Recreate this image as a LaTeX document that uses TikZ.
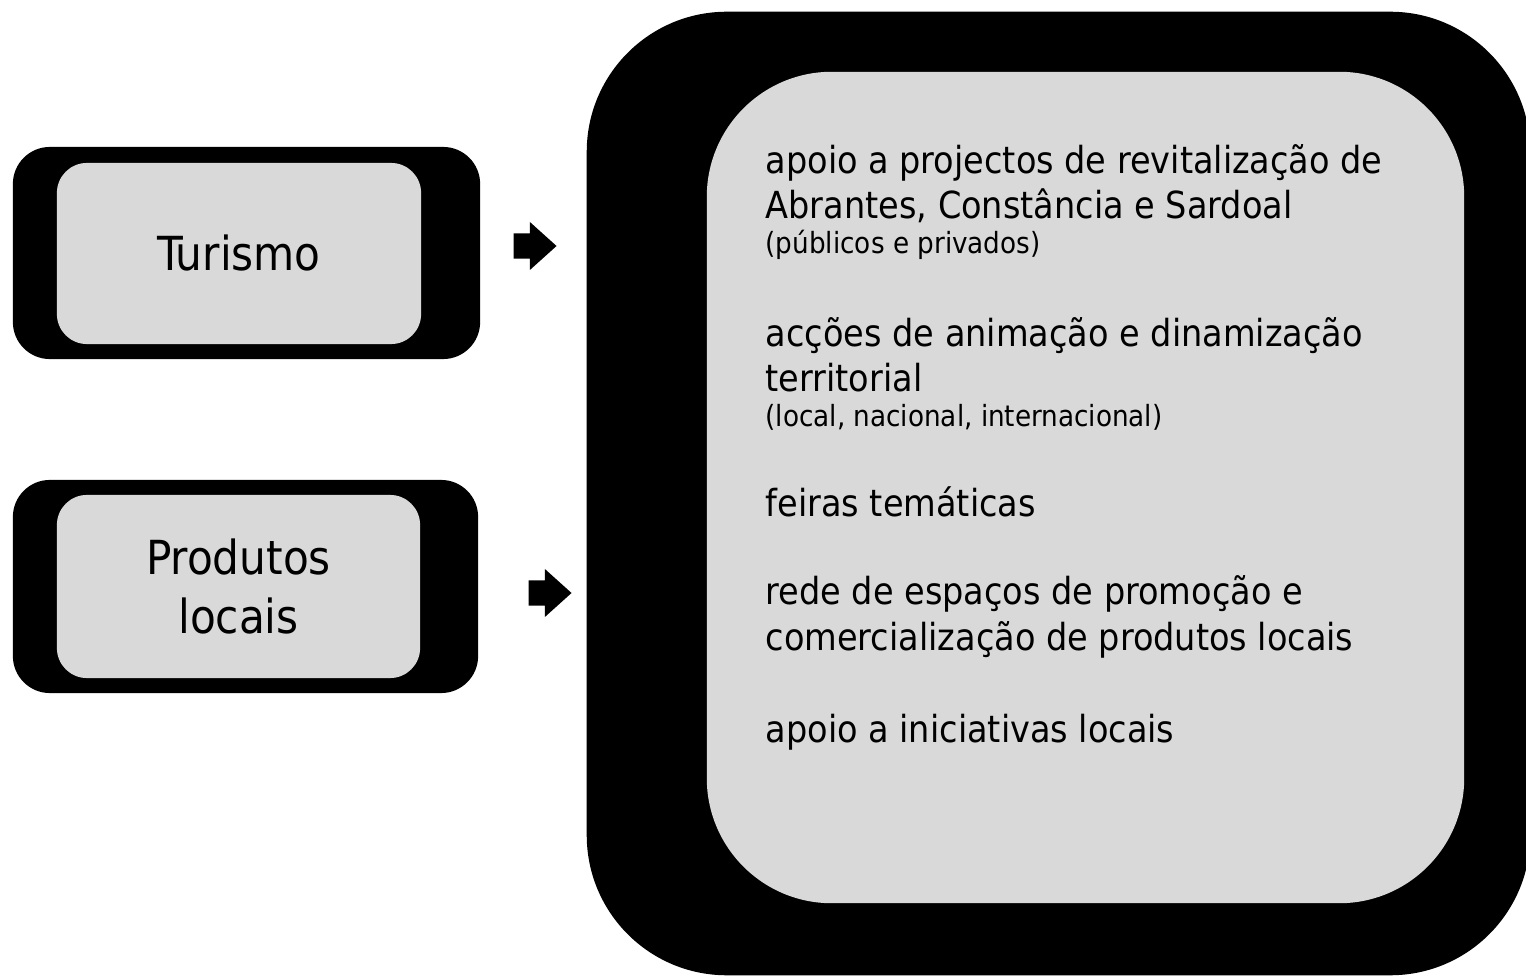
\documentclass[tikz,border=0pt]{standalone}
\usepackage{fontspec}
\setmainfont{DejaVu Sans Condensed}
\usetikzlibrary{shapes.arrows, positioning}
\definecolor{boxgray}{HTML}{D9D9D9}
\tikzstyle{frame} = [rectangle, rounded corners=0.37cm, fill=black, inner sep=0]
\tikzstyle{theme} = [rectangle, rounded corners=0.3cm, fill=boxgray, align=center, inner sep=0, font=\fontsize{13.35}{16.5}\selectfont]
\tikzstyle{item} = [anchor=base west, inner sep=0, font=\fontsize{10.6}{12.8}\selectfont]
\tikzstyle{note} = [anchor=base west, inner sep=0, font=\fontsize{8.3}{10}\selectfont]
\tikzstyle{blockarrow} = [single arrow, fill=black, minimum width=0.48cm, minimum height=0.43cm, text height=0pt, text depth=0pt, inner xsep=0pt, inner ysep=0.11cm, single arrow head extend=0.105cm, single arrow tip angle=84]

\begin{document}
\begin{tikzpicture}[x=0.01cm, y=-0.01cm]
			\path[use as bounding box] (0,0) rectangle (1526,976);
			\clip (0,0) rectangle (1526,976);
			% themes
			\node(turframe)[frame, minimum width=4.67cm, minimum height=2.12cm] at (246.5,253) {};
			\node(turismo)[theme, minimum width=3.64cm, minimum height=1.81cm] at (239,253.5) {Turismo};
			\node(prodframe)[frame, minimum width=4.65cm, minimum height=2.13cm] at (245.5,586.5) {};
			\node(produtos)[theme, minimum width=3.63cm, minimum height=1.83cm] at (238.5,586.5) {Produtos\\locais};
			% actions
			\node(actframe)[rectangle, rounded corners=1.4cm, fill=black, minimum width=9.43cm, minimum height=9.63cm] at (1058.5,493.5) {};
			\node(actions)[rectangle, rounded corners=1.25cm, fill=boxgray, minimum width=7.57cm, minimum height=8.31cm] at (1085.5,487.5) {};
			\node(arr1)[blockarrow] at (528,246) {};
			\node(arr2)[blockarrow] at (543,593) {};
			% Labels
			\node(a1)[item] at (765,174) {apoio a projectos de revitalização de};
			\node(a2)[item] at (765,219) {Abrantes, Constância e Sardoal};
			\node(a3)[note] at (765,254) {(públicos e privados)};
			\node(b1)[item] at (765,347) {acções de animação e dinamização};
			\node(b2)[item] at (765,392) {territorial};
			\node(b3)[note] at (765,427) {(local, nacional, internacional)};
			\node(c1)[item] at (765,517) {feiras temáticas};
			\node(d1)[item] at (765,605) {rede de espaços de promoção e};
			\node(d2)[item] at (765,650) {comercialização de produtos locais};
			\node(e1)[item] at (765,742) {apoio a iniciativas locais};
		\end{tikzpicture}
\end{document}
